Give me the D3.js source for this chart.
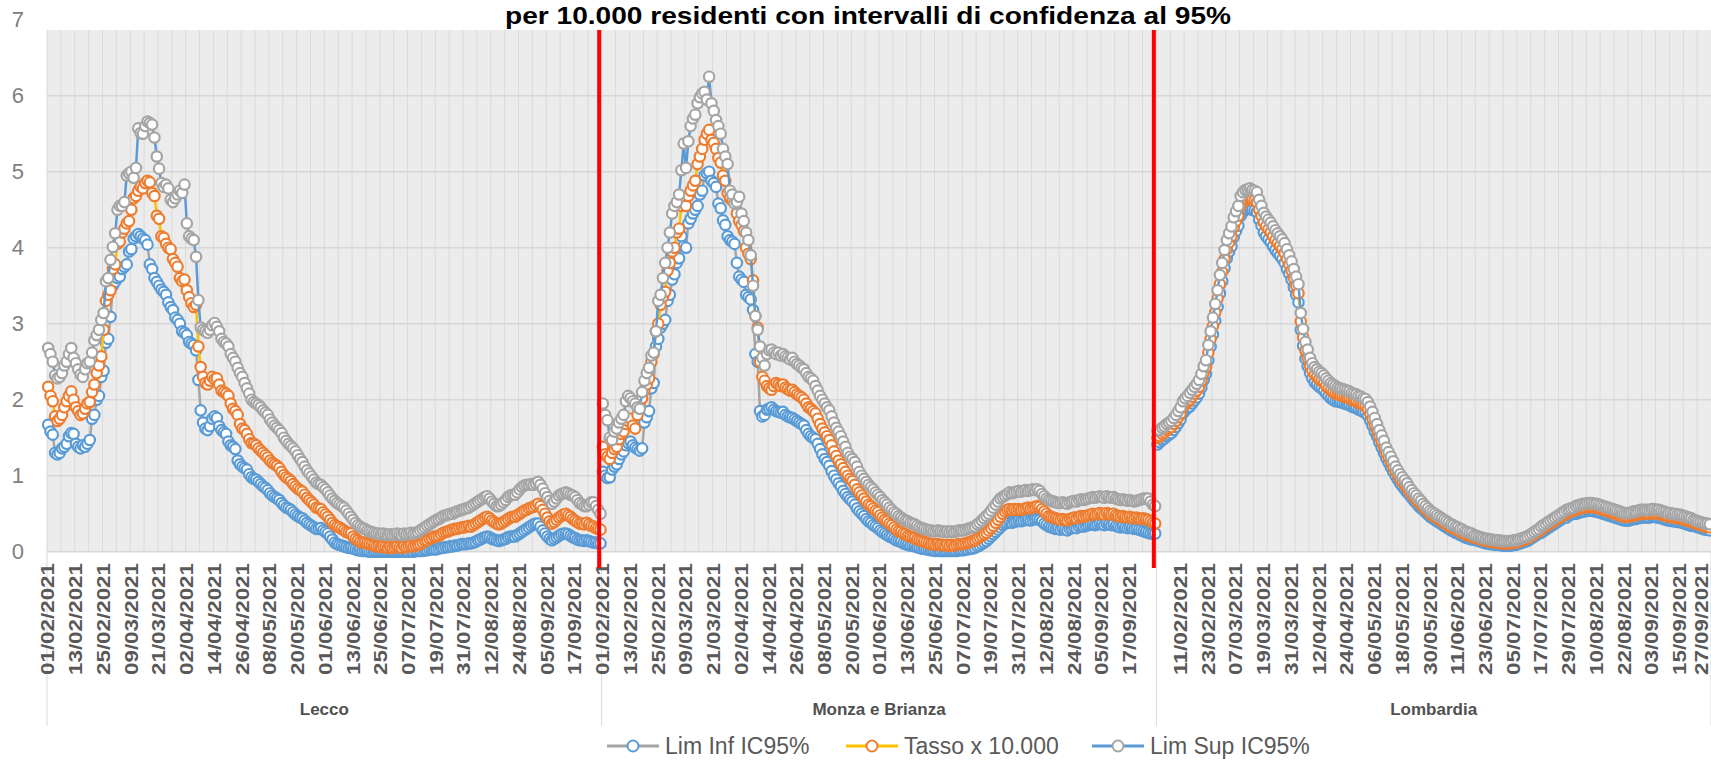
<!DOCTYPE html>
<html><head><meta charset="utf-8">
<script src="https://cdn.jsdelivr.net/npm/d3@7"></script>
<style>body{margin:0;background:#fff;overflow:hidden;} svg{display:block;}</style>
</head><body>
<svg id="chart" width="1711" height="760"></svg>
<script>
// ---------- DATA ----------
const panels = ["Lecco", "Monza e Brianza", "Lombardia"];
const seriesNames = ["Lim Inf IC95%", "Tasso x 10.000", "Lim Sup IC95%"];
const titleText = "per 10.000 residenti con intervalli di confidenza al 95%";
const yTicks = [0, 1, 2, 3, 4, 5, 6, 7];

const ticksLecco = ["01/02/2021","13/02/2021","25/02/2021","09/03/2021","21/03/2021","02/04/2021","14/04/2021","26/04/2021","08/05/2021","20/05/2021","01/06/2021","13/06/2021","25/06/2021","07/07/2021","19/07/2021","31/07/2021","12/08/2021","24/08/2021","05/09/2021","17/09/2021"];
const ticksMonza = ["01/02/2021","13/02/2021","25/02/2021","09/03/2021","21/03/2021","02/04/2021","14/04/2021","26/04/2021","08/05/2021","20/05/2021","01/06/2021","13/06/2021","25/06/2021","07/07/2021","19/07/2021","31/07/2021","12/08/2021","24/08/2021","05/09/2021","17/09/2021"];
const ticksLombardia = ["11/02/2021","23/02/2021","07/03/2021","19/03/2021","31/03/2021","12/04/2021","24/04/2021","06/05/2021","18/05/2021","30/05/2021","11/06/2021","23/06/2021","05/07/2021","17/07/2021","29/07/2021","10/08/2021","22/08/2021","03/09/2021","15/09/2021","27/09/2021"];

const leccoRate = [
2.17,2.05,1.98,1.78,1.72,1.75,1.80,1.90,1.98,2.05,
2.11,2.00,1.90,1.85,1.80,1.82,1.88,1.95,1.97,2.10,
2.20,2.35,2.45,2.57,2.92,3.30,3.38,3.44,3.72,3.78,
4.05,4.08,4.20,4.25,4.32,4.35,4.50,4.65,4.68,4.75,
4.80,4.78,4.85,4.88,4.86,4.72,4.68,4.42,4.38,4.15,
4.13,4.05,4.00,3.98,3.85,3.80,3.75,3.60,3.56,3.58,
3.44,3.35,3.27,3.22,3.25,2.70,2.43,2.30,2.22,2.20,
2.25,2.30,2.27,2.28,2.20,2.12,2.10,2.08,2.05,1.95,
1.88,1.85,1.80,1.68,1.62,1.60,1.55,1.48,1.43,1.42,
1.40,1.36,1.33,1.30,1.27,1.24,1.20,1.17,1.15,1.13,
1.10,1.05,1.01,0.98,0.96,0.93,0.89,0.86,0.83,0.81,
0.79,0.75,0.71,0.68,0.65,0.62,0.58,0.57,0.56,0.52,
0.49,0.46,0.42,0.38,0.35,0.33,0.32,0.30,0.28,0.26,
0.25,0.24,0.20,0.17,0.15,0.13,0.12,0.12,0.11,0.10,
0.09,0.08,0.07,0.07,0.06,0.07,0.06,0.05,0.06,0.05,
0.06,0.07,0.06,0.05,0.07,0.06,0.07,0.08,0.07,0.08,
0.09,0.10,0.12,0.14,0.15,0.17,0.18,0.20,0.20,0.21,
0.23,0.25,0.26,0.27,0.28,0.29,0.30,0.30,0.31,0.32,
0.32,0.33,0.34,0.33,0.35,0.37,0.39,0.41,0.43,0.45,
0.46,0.44,0.41,0.39,0.37,0.36,0.37,0.39,0.41,0.43,
0.45,0.46,0.46,0.48,0.50,0.52,0.54,0.55,0.57,0.58,
0.59,0.61,0.63,0.60,0.55,0.50,0.45,0.40,0.37,0.39,
0.42,0.45,0.47,0.49,0.50,0.48,0.46,0.43,0.41,0.39,
0.37,0.37,0.36,0.38,0.36,0.34,0.33,0.31,0.30,0.29];

const leccoSup = [
2.68,2.60,2.50,2.32,2.28,2.30,2.35,2.45,2.50,2.60,
2.68,2.55,2.48,2.40,2.33,2.30,2.40,2.48,2.50,2.62,
2.78,2.85,2.92,3.05,3.14,3.56,3.60,3.84,4.01,4.19,
4.50,4.55,4.55,4.60,4.95,4.98,5.00,4.92,5.05,5.57,
5.51,5.50,5.60,5.66,5.64,5.62,5.45,5.20,5.04,4.85,
4.80,4.83,4.78,4.63,4.60,4.65,4.70,4.75,4.72,4.83,
4.32,4.15,4.12,4.10,3.88,3.31,2.95,2.92,2.90,2.88,
2.92,2.98,3.01,2.96,2.90,2.80,2.76,2.74,2.70,2.60,
2.55,2.50,2.42,2.35,2.30,2.22,2.15,2.08,2.00,1.97,
1.95,1.93,1.90,1.86,1.83,1.80,1.74,1.70,1.66,1.63,
1.60,1.56,1.50,1.46,1.42,1.39,1.36,1.32,1.27,1.22,
1.18,1.12,1.07,1.03,0.99,0.95,0.91,0.89,0.88,0.85,
0.82,0.78,0.74,0.70,0.67,0.64,0.62,0.60,0.58,0.54,
0.50,0.46,0.42,0.38,0.35,0.33,0.31,0.30,0.28,0.27,
0.26,0.25,0.24,0.24,0.23,0.24,0.23,0.22,0.23,0.22,
0.23,0.24,0.23,0.22,0.24,0.23,0.24,0.25,0.24,0.25,
0.26,0.28,0.30,0.32,0.34,0.36,0.38,0.40,0.42,0.43,
0.45,0.47,0.48,0.49,0.50,0.50,0.52,0.53,0.54,0.55,
0.56,0.57,0.58,0.60,0.62,0.64,0.66,0.68,0.70,0.72,
0.73,0.70,0.66,0.63,0.60,0.60,0.62,0.65,0.68,0.72,
0.74,0.75,0.75,0.78,0.82,0.85,0.87,0.88,0.88,0.89,
0.88,0.90,0.92,0.88,0.83,0.77,0.72,0.67,0.63,0.66,
0.70,0.74,0.76,0.77,0.78,0.77,0.75,0.74,0.72,0.68,
0.64,0.62,0.60,0.60,0.62,0.65,0.65,0.60,0.55,0.50];

const leccoInf = [
1.67,1.58,1.54,1.30,1.28,1.30,1.36,1.38,1.42,1.52,
1.56,1.55,1.42,1.38,1.36,1.40,1.38,1.42,1.47,1.75,
1.80,2.00,2.05,2.30,2.38,2.75,2.80,3.09,3.50,3.55,
3.60,3.62,3.72,3.75,3.78,3.95,3.98,4.12,4.15,4.18,
4.15,4.12,4.10,4.04,3.78,3.72,3.60,3.55,3.50,3.45,
3.42,3.38,3.28,3.22,3.18,3.08,3.05,3.00,2.90,2.88,
2.85,2.76,2.74,2.72,2.65,2.26,1.86,1.70,1.62,1.60,
1.65,1.75,1.78,1.76,1.65,1.60,1.57,1.55,1.45,1.40,
1.38,1.35,1.20,1.15,1.12,1.10,1.08,1.02,0.98,0.96,
0.95,0.92,0.89,0.86,0.84,0.81,0.77,0.74,0.72,0.70,
0.68,0.64,0.61,0.58,0.57,0.55,0.52,0.49,0.47,0.45,
0.44,0.41,0.38,0.36,0.34,0.32,0.30,0.30,0.31,0.28,
0.26,0.24,0.20,0.16,0.12,0.10,0.09,0.08,0.07,0.06,
0.05,0.05,0.04,0.03,0.02,0.02,0.01,0.01,0.01,0.00,
0.00,0.00,0.00,0.00,0.00,0.00,0.00,0.00,0.00,0.00,
0.00,0.00,0.00,0.00,0.00,0.00,0.00,0.01,0.00,0.01,
0.01,0.01,0.01,0.02,0.02,0.03,0.03,0.03,0.03,0.04,
0.05,0.05,0.06,0.06,0.07,0.07,0.08,0.08,0.09,0.10,
0.10,0.10,0.11,0.11,0.12,0.13,0.15,0.16,0.18,0.19,
0.20,0.19,0.17,0.16,0.15,0.14,0.15,0.16,0.17,0.19,
0.20,0.20,0.20,0.22,0.24,0.26,0.28,0.30,0.32,0.34,
0.36,0.37,0.37,0.33,0.28,0.24,0.20,0.17,0.15,0.17,
0.19,0.21,0.23,0.24,0.24,0.23,0.21,0.19,0.18,0.16,
0.15,0.15,0.14,0.15,0.14,0.13,0.12,0.12,0.11,0.11];

const monzaRate = [
1.38,1.28,1.25,1.22,1.30,1.35,1.38,1.48,1.55,1.58,
1.68,1.72,1.75,1.66,1.62,1.80,1.95,2.02,2.12,2.20,
2.28,2.50,2.60,2.90,3.00,3.25,3.35,3.42,3.70,3.80,
3.95,4.00,4.20,4.25,4.55,4.60,4.55,4.68,4.75,4.82,
4.88,5.10,5.20,5.30,5.42,5.50,5.55,5.42,5.38,5.30,
5.18,5.12,4.95,4.88,4.72,4.65,4.62,4.60,4.45,4.35,
4.30,4.22,4.00,3.92,3.85,3.57,3.10,2.95,2.50,2.30,
2.25,2.18,2.15,2.13,2.18,2.22,2.20,2.18,2.20,2.16,
2.14,2.12,2.13,2.10,2.07,2.05,2.03,2.00,1.95,1.90,
1.88,1.85,1.82,1.75,1.68,1.62,1.57,1.52,1.47,1.40,
1.32,1.26,1.20,1.15,1.10,1.05,1.00,0.96,0.93,0.88,
0.82,0.78,0.74,0.70,0.66,0.62,0.60,0.57,0.54,0.52,
0.48,0.45,0.42,0.40,0.37,0.35,0.32,0.29,0.27,0.26,
0.24,0.23,0.21,0.20,0.19,0.18,0.16,0.15,0.14,0.13,
0.12,0.11,0.10,0.10,0.09,0.10,0.09,0.09,0.08,0.09,
0.08,0.09,0.08,0.09,0.10,0.10,0.10,0.11,0.12,0.13,
0.14,0.15,0.17,0.19,0.21,0.23,0.25,0.28,0.31,0.34,
0.38,0.42,0.46,0.50,0.53,0.55,0.56,0.55,0.56,0.55,
0.56,0.55,0.56,0.57,0.58,0.57,0.58,0.59,0.60,0.59,
0.56,0.53,0.50,0.47,0.46,0.45,0.44,0.43,0.42,0.43,
0.42,0.41,0.43,0.44,0.45,0.44,0.46,0.47,0.46,0.47,
0.48,0.49,0.50,0.49,0.50,0.51,0.50,0.49,0.51,0.50,
0.49,0.50,0.48,0.47,0.46,0.47,0.46,0.45,0.46,0.45,
0.44,0.45,0.44,0.43,0.44,0.43,0.42,0.40,0.38,0.37];

const monzaSup = [
1.95,1.80,1.73,1.50,1.47,1.58,1.62,1.70,1.75,1.80,
1.98,2.05,2.02,1.98,1.95,1.90,1.88,2.10,2.25,2.35,
2.42,2.58,2.62,2.90,3.30,3.38,3.60,3.80,4.00,4.20,
4.45,4.55,4.60,4.70,5.02,5.37,5.05,5.40,5.60,5.70,
5.75,5.90,5.98,6.03,6.05,5.95,6.25,5.90,5.80,5.68,
5.60,5.50,5.30,5.20,5.10,4.75,4.70,4.58,4.60,4.67,
4.45,4.35,4.20,4.10,3.90,3.50,3.10,2.92,2.70,2.55,
2.45,2.60,2.65,2.66,2.62,2.60,2.62,2.58,2.60,2.57,
2.55,2.53,2.55,2.50,2.47,2.45,2.42,2.40,2.35,2.30,
2.28,2.25,2.18,2.12,2.05,2.00,1.95,1.90,1.86,1.78,
1.70,1.63,1.58,1.52,1.45,1.38,1.30,1.25,1.22,1.18,
1.12,1.05,1.00,0.96,0.92,0.88,0.85,0.82,0.78,0.75,
0.72,0.68,0.65,0.62,0.58,0.55,0.52,0.50,0.47,0.45,
0.43,0.41,0.40,0.38,0.37,0.36,0.34,0.32,0.31,0.30,
0.29,0.28,0.28,0.27,0.27,0.28,0.27,0.27,0.26,0.27,
0.26,0.27,0.26,0.27,0.28,0.28,0.28,0.29,0.30,0.31,
0.32,0.33,0.36,0.38,0.41,0.44,0.47,0.50,0.54,0.58,
0.62,0.66,0.70,0.72,0.74,0.76,0.78,0.77,0.78,0.79,
0.80,0.79,0.80,0.81,0.80,0.81,0.82,0.81,0.82,0.80,
0.76,0.73,0.70,0.68,0.67,0.66,0.65,0.64,0.64,0.65,
0.64,0.63,0.65,0.66,0.67,0.66,0.68,0.69,0.68,0.69,
0.70,0.71,0.72,0.71,0.72,0.73,0.72,0.71,0.73,0.72,
0.71,0.72,0.70,0.69,0.68,0.69,0.68,0.67,0.68,0.67,
0.66,0.67,0.68,0.69,0.70,0.70,0.70,0.66,0.62,0.60];

const monzaInf = [
1.05,1.00,0.97,0.98,1.08,1.12,1.15,1.22,1.28,1.32,
1.40,1.43,1.45,1.40,1.37,1.35,1.33,1.36,1.70,1.77,
1.85,2.15,2.22,2.70,2.80,2.95,3.00,3.05,3.30,3.38,
3.58,3.65,3.80,3.86,4.15,4.02,4.00,4.32,4.38,4.45,
4.50,4.55,4.70,4.75,4.95,4.98,5.00,4.88,4.85,4.80,
4.58,4.52,4.36,4.30,4.15,4.10,4.08,4.05,3.80,3.62,
3.58,3.55,3.38,3.35,3.32,3.18,2.60,2.50,1.85,1.78,
1.80,1.87,1.88,1.90,1.87,1.85,1.84,1.83,1.84,1.80,
1.78,1.77,1.76,1.74,1.72,1.70,1.68,1.66,1.60,1.55,
1.52,1.50,1.48,1.42,1.35,1.28,1.22,1.18,1.13,1.06,
1.00,0.95,0.90,0.86,0.80,0.76,0.72,0.69,0.66,0.62,
0.57,0.53,0.50,0.47,0.43,0.40,0.38,0.35,0.33,0.31,
0.28,0.26,0.24,0.22,0.20,0.19,0.17,0.15,0.14,0.13,
0.11,0.10,0.09,0.08,0.08,0.07,0.06,0.05,0.04,0.04,
0.03,0.03,0.02,0.02,0.01,0.02,0.01,0.01,0.01,0.01,
0.01,0.01,0.01,0.01,0.02,0.02,0.02,0.03,0.03,0.04,
0.04,0.05,0.07,0.08,0.10,0.12,0.14,0.17,0.20,0.23,
0.26,0.29,0.32,0.35,0.37,0.38,0.39,0.38,0.39,0.40,
0.41,0.40,0.41,0.42,0.42,0.41,0.42,0.43,0.43,0.42,
0.40,0.37,0.35,0.33,0.32,0.31,0.30,0.30,0.29,0.30,
0.29,0.28,0.30,0.31,0.32,0.31,0.33,0.34,0.33,0.34,
0.35,0.36,0.36,0.35,0.36,0.37,0.36,0.35,0.37,0.36,
0.35,0.36,0.34,0.33,0.32,0.33,0.32,0.31,0.32,0.31,
0.30,0.30,0.29,0.28,0.27,0.26,0.25,0.24,0.24,0.24];

const lombardiaRate = [
1.50,1.52,1.55,1.57,1.60,1.62,1.64,1.68,1.72,1.77,
1.82,1.90,1.94,1.97,2.00,2.04,2.08,2.12,2.17,2.25,
2.35,2.43,2.62,2.80,2.97,3.15,3.33,3.52,3.68,3.85,
3.98,4.07,4.15,4.27,4.35,4.42,4.55,4.60,4.63,4.64,
4.65,4.63,4.62,4.60,4.50,4.42,4.33,4.28,4.24,4.20,
4.15,4.10,4.06,4.02,3.98,3.93,3.85,3.78,3.70,3.60,
3.50,3.40,3.03,2.82,2.65,2.55,2.45,2.38,2.33,2.30,
2.27,2.25,2.22,2.18,2.15,2.12,2.10,2.08,2.07,2.06,
2.05,2.04,2.03,2.02,2.00,1.99,1.98,1.96,1.95,1.93,
1.92,1.88,1.82,1.75,1.67,1.60,1.52,1.45,1.38,1.30,
1.24,1.18,1.12,1.06,1.01,0.96,0.92,0.88,0.84,0.80,
0.76,0.72,0.69,0.65,0.62,0.59,0.56,0.53,0.50,0.48,
0.46,0.44,0.42,0.40,0.38,0.36,0.34,0.32,0.31,0.29,
0.28,0.26,0.25,0.23,0.22,0.21,0.20,0.19,0.18,0.17,
0.16,0.15,0.14,0.14,0.13,0.13,0.12,0.12,0.12,0.11,
0.11,0.11,0.11,0.11,0.12,0.12,0.13,0.14,0.15,0.16,
0.17,0.19,0.21,0.23,0.25,0.27,0.29,0.31,0.33,0.35,
0.37,0.39,0.41,0.43,0.45,0.47,0.49,0.50,0.52,0.53,
0.54,0.55,0.56,0.57,0.58,0.58,0.59,0.59,0.59,0.58,
0.58,0.57,0.56,0.55,0.54,0.53,0.52,0.51,0.50,0.49,
0.48,0.47,0.46,0.46,0.46,0.47,0.48,0.48,0.49,0.50,
0.50,0.50,0.50,0.50,0.51,0.51,0.50,0.50,0.49,0.48,
0.47,0.46,0.46,0.45,0.45,0.44,0.44,0.43,0.42,0.41,
0.40,0.39,0.38,0.37,0.36,0.35,0.34,0.33,0.33,0.32];

const lombardiaSup = [
1.59,1.60,1.63,1.65,1.68,1.70,1.72,1.76,1.80,1.85,
1.90,1.98,2.02,2.05,2.09,2.13,2.17,2.21,2.26,2.34,
2.44,2.52,2.72,2.90,3.08,3.26,3.44,3.64,3.80,3.97,
4.10,4.19,4.28,4.40,4.48,4.55,4.68,4.73,4.76,4.77,
4.78,4.76,4.75,4.73,4.63,4.55,4.46,4.41,4.37,4.33,
4.28,4.23,4.19,4.15,4.11,4.06,3.98,3.90,3.82,3.72,
3.62,3.52,3.14,2.93,2.76,2.66,2.55,2.48,2.43,2.40,
2.37,2.35,2.32,2.28,2.25,2.22,2.20,2.18,2.16,2.15,
2.14,2.13,2.12,2.11,2.09,2.08,2.07,2.05,2.04,2.02,
2.01,1.97,1.91,1.84,1.76,1.68,1.60,1.53,1.46,1.37,
1.31,1.25,1.19,1.12,1.07,1.02,0.98,0.94,0.90,0.85,
0.81,0.77,0.74,0.70,0.67,0.63,0.60,0.57,0.54,0.52,
0.50,0.48,0.46,0.44,0.42,0.40,0.38,0.36,0.35,0.33,
0.32,0.30,0.29,0.27,0.26,0.25,0.24,0.22,0.21,0.20,
0.19,0.18,0.17,0.17,0.16,0.16,0.15,0.15,0.15,0.14,
0.14,0.14,0.14,0.14,0.15,0.15,0.16,0.17,0.18,0.19,
0.20,0.22,0.24,0.26,0.28,0.30,0.33,0.35,0.37,0.39,
0.41,0.43,0.45,0.47,0.49,0.51,0.53,0.55,0.56,0.57,
0.58,0.60,0.61,0.62,0.63,0.63,0.64,0.64,0.64,0.63,
0.63,0.62,0.61,0.60,0.59,0.58,0.57,0.56,0.55,0.54,
0.53,0.52,0.51,0.51,0.51,0.52,0.53,0.53,0.54,0.55,
0.55,0.55,0.55,0.55,0.56,0.56,0.55,0.55,0.54,0.53,
0.52,0.51,0.51,0.50,0.50,0.49,0.49,0.48,0.47,0.46,
0.45,0.44,0.42,0.41,0.40,0.39,0.38,0.37,0.37,0.36];

const lombardiaInf = [
1.41,1.44,1.47,1.49,1.52,1.54,1.56,1.60,1.64,1.69,
1.74,1.82,1.86,1.89,1.91,1.95,1.99,2.03,2.08,2.16,
2.26,2.34,2.52,2.70,2.86,3.04,3.22,3.40,3.56,3.73,
3.86,3.95,4.02,4.14,4.22,4.29,4.42,4.47,4.50,4.51,
4.52,4.50,4.49,4.47,4.37,4.29,4.20,4.15,4.11,4.07,
4.02,3.97,3.93,3.89,3.85,3.80,3.72,3.66,3.58,3.48,
3.38,3.28,2.92,2.71,2.54,2.44,2.35,2.28,2.23,2.20,
2.17,2.15,2.12,2.08,2.05,2.02,2.00,1.98,1.98,1.97,
1.96,1.95,1.94,1.93,1.91,1.90,1.89,1.87,1.86,1.84,
1.83,1.79,1.73,1.66,1.58,1.52,1.44,1.37,1.30,1.23,
1.17,1.11,1.05,1.00,0.95,0.90,0.86,0.82,0.78,0.75,
0.71,0.67,0.64,0.60,0.57,0.55,0.52,0.49,0.46,0.44,
0.42,0.40,0.38,0.36,0.34,0.32,0.30,0.28,0.27,0.25,
0.24,0.22,0.21,0.19,0.18,0.17,0.16,0.16,0.15,0.14,
0.13,0.12,0.11,0.11,0.10,0.10,0.09,0.09,0.09,0.08,
0.08,0.08,0.08,0.08,0.09,0.09,0.10,0.11,0.12,0.13,
0.14,0.16,0.18,0.20,0.22,0.24,0.25,0.27,0.29,0.31,
0.33,0.35,0.37,0.39,0.41,0.43,0.45,0.45,0.48,0.49,
0.50,0.50,0.51,0.52,0.53,0.53,0.54,0.54,0.54,0.53,
0.53,0.52,0.51,0.50,0.49,0.48,0.47,0.46,0.45,0.44,
0.43,0.42,0.41,0.41,0.41,0.42,0.43,0.43,0.44,0.45,
0.45,0.45,0.45,0.45,0.46,0.46,0.45,0.45,0.44,0.43,
0.42,0.41,0.41,0.40,0.40,0.39,0.39,0.38,0.37,0.36,
0.35,0.34,0.34,0.33,0.32,0.31,0.30,0.29,0.29,0.28];

// ---------- BUILD ----------
const panelData = [
  {name: panels[0], inf: leccoInf, rate: leccoRate, sup: leccoSup, ticks: ticksLecco},
  {name: panels[1], inf: monzaInf, rate: monzaRate, sup: monzaSup, ticks: ticksMonza},
  {name: panels[2], inf: lombardiaInf, rate: lombardiaRate, sup: lombardiaSup, ticks: ticksLombardia}
];
const seriesStyle = [
  {key: "inf", line: "#a5a5a5", marker: "#5b9bd5"},
  {key: "rate", line: "#ffc000", marker: "#ed7d31"},
  {key: "sup", line: "#5b9bd5", marker: "#a5a5a5"}
];

const fmt = d3.timeFormat("%d/%m/%Y");
const start = new Date(2021, 1, 1);
const nDays = leccoRate.length;
const dates = d3.range(nDays).map(i => fmt(d3.timeDay.offset(start, i)));

const FONT = "'Liberation Sans', Arial, sans-serif";
const plotLeft = 47, plotRight = 1711, plotTop = 30, plotBottom = 551.7;

const svg = d3.select("#chart");
svg.append("rect").attr("width", 1711).attr("height", 760).attr("fill", "#ffffff");

const x0 = d3.scaleBand().domain(panels).range([plotLeft, plotRight]);
const x1 = d3.scaleBand().domain(dates).range([0, x0.bandwidth()]);
const y = d3.scaleLinear().domain([0, 7]).range([plotBottom, 19.7]);
const px = (p, d) => x0(p) + x1(d) + x1.bandwidth() / 2;

// plot background
svg.append("rect").attr("x", plotLeft).attr("y", plotTop)
  .attr("width", plotRight - plotLeft).attr("height", plotBottom - plotTop)
  .attr("fill", "#ececec");

// vertical gridlines
const vg = svg.append("g");
panelData.forEach(p => {
  dates.forEach((d, i) => {
    if (i % 6 === 0) {
      const xx = x0(p.name) + x1(d);
      vg.append("line").attr("x1", xx).attr("x2", xx).attr("y1", plotTop).attr("y2", plotBottom)
        .attr("stroke", "#dadada").attr("stroke-width", 1);
    }
  });
});
// horizontal gridlines
svg.append("g").selectAll("line").data(yTicks.filter(v => y(v) >= plotTop)).join("line")
  .attr("x1", plotLeft).attr("x2", plotRight)
  .attr("y1", d => y(d)).attr("y2", d => y(d))
  .attr("stroke", "#d6d6d6").attr("stroke-width", 1.5);

// y axis labels
const yAxis = svg.append("g").attr("transform", "translate(24,0)")
  .call(d3.axisLeft(y).tickValues(yTicks).tickSize(0).tickPadding(0).tickFormat(d3.format("d")));
yAxis.select(".domain").remove();
yAxis.selectAll("text").attr("font-family", FONT).attr("font-size", 22).attr("fill", "#7f7f7f");

// category separators
const seps = panels.map(p => x0(p)).concat([plotRight]);
svg.append("g").selectAll("line").data(seps).join("line")
  .attr("x1", d => d).attr("x2", d => d).attr("y1", plotBottom).attr("y2", 726)
  .attr("stroke", "#d9d9d9").attr("stroke-width", 1);

// date labels (kept inside the canvas edge)
panelData.forEach(p => {
  svg.append("g").selectAll("text").data(p.ticks).join("text")
    .attr("transform", d => `translate(${Math.min(px(p.name, d), 1702)},563) rotate(-90)`)
    .attr("text-anchor", "end").attr("dy", "0.35em")
    .attr("font-family", FONT).attr("font-size", 18).attr("font-weight", "bold").attr("fill", "#595959")
    .attr("textLength", 112).attr("lengthAdjust", "spacingAndGlyphs")
    .text(d => d);
});
// category labels
svg.append("g").selectAll("text").data(panels).join("text")
  .attr("x", d => x0(d) + x0.bandwidth() / 2).attr("y", 715)
  .attr("text-anchor", "middle").attr("font-family", FONT).attr("font-size", 17)
  .attr("font-weight", "bold").attr("fill", "#505050").text(d => d);

// series
const gSeries = svg.append("g");
seriesStyle.forEach(s => {
  panelData.forEach(p => {
    const vals = p[s.key];
    const line = d3.line().x((v, i) => px(p.name, dates[i])).y(v => y(v));
    gSeries.append("path").attr("d", line(vals)).attr("fill", "none")
      .attr("stroke", s.line).attr("stroke-width", 2.5).attr("stroke-linejoin", "round");
    gSeries.append("g").selectAll("circle").data(vals).join("circle")
      .attr("cx", (v, i) => px(p.name, dates[i])).attr("cy", v => y(v)).attr("r", 5.2)
      .attr("fill", "#ffffff").attr("stroke", s.marker).attr("stroke-width", 2.2);
  });
});

// red separator lines
svg.append("g").selectAll("line").data(panels.slice(1)).join("line")
  .attr("x1", d => x0(d) - 2.5).attr("x2", d => x0(d) - 2.5)
  .attr("y1", plotTop).attr("y2", 568)
  .attr("stroke", "#ff0000").attr("stroke-width", 4);

// title
svg.append("text").attr("x", 868).attr("y", 24).attr("text-anchor", "middle")
  .attr("font-family", FONT).attr("font-size", 24).attr("font-weight", "bold").attr("fill", "#000")
  .attr("textLength", 726).attr("lengthAdjust", "spacingAndGlyphs").text(titleText);

// legend
const legendX = [607, 846, 1092];
const lg = svg.append("g");
seriesStyle.forEach((s, k) => {
  const lx = legendX[k], ly = 746;
  lg.append("line").attr("x1", lx).attr("x2", lx + 52).attr("y1", ly).attr("y2", ly)
    .attr("stroke", s.line).attr("stroke-width", 3);
  lg.append("circle").attr("cx", lx + 26).attr("cy", ly).attr("r", 5.5)
    .attr("fill", "#fff").attr("stroke", s.marker).attr("stroke-width", 2);
  lg.append("text").attr("x", lx + 58).attr("y", ly).attr("dy", "0.35em")
    .attr("font-family", FONT).attr("font-size", 23).attr("fill", "#595959").text(seriesNames[k]);
});
</script>
</body></html>
